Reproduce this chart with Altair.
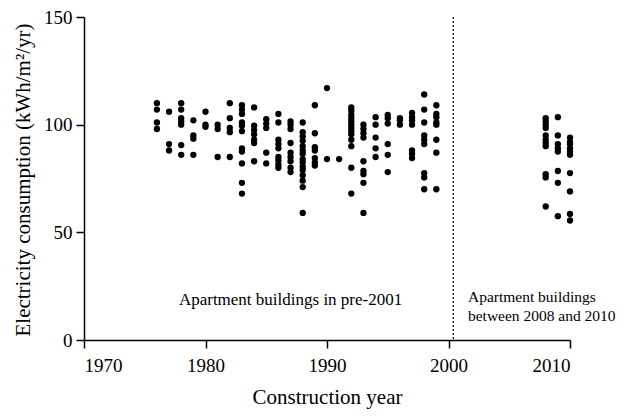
import altair as alt
import pandas as pd

# Electricity consumption per construction year
c1976 = [110, 107, 101, 98]
c1977 = [106, 91, 88]
c1978 = [110, 107, 103, 101.5, 100, 90.5, 86]
c1979 = [102, 95, 93.5, 86]
c1980 = [106, 100, 99]
c1981 = [100, 98, 85]
c1982 = [110, 103, 98.5, 96.5, 85]
c1983 = [109, 107, 105, 101, 99.5, 97, 89, 87.5, 82, 73, 68]
c1984 = [108, 99.5, 97.5, 95.5, 93, 91.5, 83]
c1985 = [102.5, 100.5, 98.5, 87, 82]
c1986 = [105, 101, 93, 91, 89, 85, 83.5, 81.5, 80]
c1987 = [101.5, 100, 98, 91.5, 87, 85, 83, 80, 78]
c1988 = [101, 96.5, 94.5, 92.5, 90, 88, 86.5, 84, 82.5, 80.5, 79, 76.5, 74, 71, 59]
c1989 = [109, 96, 89.5, 88, 84.5, 82.5, 81]
c1990 = [117, 84]
c1991 = [84]
c1992 = [108, 106.5, 104.5, 103, 101.5, 100, 98.5, 97, 95.5, 93, 90, 80, 68]
c1993 = [100, 98, 96, 94, 83, 78.5, 77, 73, 59]
c1994 = [103.5, 100, 94, 89, 85]
c1995 = [104.5, 103, 100.5, 91, 86, 78]
c1996 = [103, 102, 100]
c1997 = [105.5, 103.5, 102, 100, 88, 86.5, 84.5]
c1998 = [114, 107, 101, 95, 93, 91, 77.5, 75.5, 70]
c1999 = [109, 105, 103.5, 101, 100, 93, 87, 70]
c2008 = [103, 101.5, 100, 98.5, 95, 93, 91.5, 90, 77, 75.5, 62]
c2009 = [103.5, 95, 91, 89, 87.5, 78.5, 73, 57.5]
c2010 = [94, 92, 91, 89, 87.5, 86, 77.5, 69, 58.5, 55.5]

columns = {
    1976: c1976, 1977: c1977, 1978: c1978, 1979: c1979, 1980: c1980,
    1981: c1981, 1982: c1982, 1983: c1983, 1984: c1984, 1985: c1985,
    1986: c1986, 1987: c1987, 1988: c1988, 1989: c1989, 1990: c1990,
    1991: c1991, 1992: c1992, 1993: c1993, 1994: c1994, 1995: c1995,
    1996: c1996, 1997: c1997, 1998: c1998, 1999: c1999,
    2008: c2008, 2009: c2009, 2010: c2010,
}

x_ticks = [1970, 1980, 1990, 2000, 2010]
y_ticks = [0, 50, 100, 150]
divider_year = [2000.4]
labels_text = ["Apartment buildings in pre-2001", "Apartment buildings", "between 2008 and 2010"]
labels_x = [1987.0, 2001.6, 2001.6]
labels_y = [18.5, 20, 11.3]
labels_align = ["center", "left", "left"]

rows = [{"year": yr, "kwh": v} for yr, vals in columns.items() for v in vals]
df = pd.DataFrame(rows)

FONT = "Liberation Serif"
PLOT_H = 323

xscale = alt.Scale(domain=[1970, 2010], nice=False, zero=False)
yscale = alt.Scale(domain=[0, 150], nice=False)

points = alt.Chart(df).mark_circle(size=40, color="black", opacity=1).encode(
    x=alt.X("year:Q", scale=xscale,
            axis=alt.Axis(values=x_ticks, format="d", title="Construction year",
                          labelPadding=8, titlePadding=11, titleFontSize=21)),
    y=alt.Y("kwh:Q", scale=yscale,
            axis=alt.Axis(values=y_ticks, title="Electricity consumption (kWh/m²/yr)",
                          labelPadding=4, titlePadding=10, titleFontSize=21,
                          titleY=PLOT_H / 2 + 1)),
)

rule_df = pd.DataFrame({"x": divider_year})
rule = alt.Chart(rule_df).mark_rule(color="black", strokeDash=[2, 2], strokeWidth=1.2).encode(
    x=alt.X("x:Q", scale=xscale),
    y=alt.value(0),
    y2=alt.value(PLOT_H),
)

txt_df = pd.DataFrame({"t": labels_text, "x": labels_x, "y": labels_y, "a": labels_align})
txt_c = alt.Chart(txt_df[txt_df.a == "center"]).mark_text(
    font=FONT, fontSize=17, color="black", align="center", baseline="middle"
).encode(x=alt.X("x:Q", scale=xscale), y=alt.Y("y:Q", scale=yscale), text="t:N")
txt_l = alt.Chart(txt_df[txt_df.a == "left"]).mark_text(
    font=FONT, fontSize=15.5, color="black", align="left", baseline="middle"
).encode(x=alt.X("x:Q", scale=xscale), y=alt.Y("y:Q", scale=yscale), text="t:N")

chart = alt.layer(rule, points, txt_c, txt_l).properties(
    width=486, height=PLOT_H,
    autosize=alt.AutoSizeParams(type="none"),
    padding={"left": 76, "top": 9, "right": 47, "bottom": 70},
).configure_view(stroke=None).configure_axis(
    grid=False,
    domainColor="black", domainWidth=1.5,
    tickColor="black", tickWidth=1.5, tickSize=8,
    labelFont=FONT, labelFontSize=19, labelColor="black",
    titleFont=FONT, titleColor="black", titleFontWeight="normal",
)

chart.save("out.html", embed_options={"renderer": "svg", "actions": False})
